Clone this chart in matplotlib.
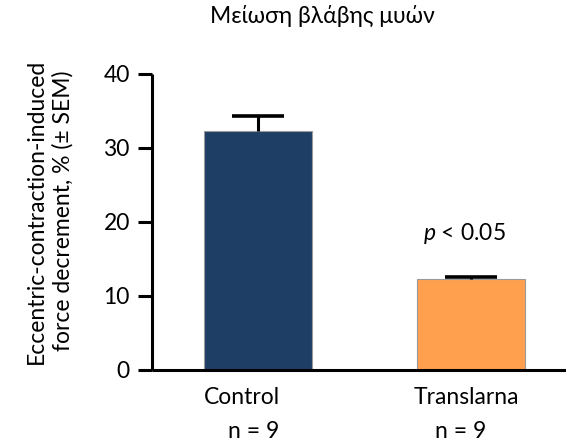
import matplotlib
matplotlib.use("Agg")
import matplotlib.pyplot as plt
import matplotlib.transforms as mtransforms

# ---------------------------------------------------------------- data
groups = ["Control", "Translarna"]
n_labels = ["n = 9", "n = 9"]
values = [32.3, 12.3]
sem = [2.0, 0.3]
colors = ["#1F3E66", "#FFA04E"]
yticks = [0, 10, 20, 30, 40]
title = "Μείωση βλάβης μυών"
ylabel = "Eccentric-contraction-induced\nforce decrement, % (± SEM)"
pval = "$\\it{p}$ < 0.05"

plt.rcParams["font.family"] = ["Lato", "Open Sans", "DejaVu Sans"]
plt.rcParams["mathtext.fontset"] = "custom"
plt.rcParams["mathtext.it"] = "Lato:italic"
FS = 16.5

fig = plt.figure(figsize=(5.66, 4.41), dpi=100)
ax = fig.add_axes([152 / 566, 1 - 370 / 441, 1 - 152 / 566, (370 - 74) / 441])

x = list(range(len(groups)))
ax.bar(x, values, width=0.507, color=colors, edgecolor="#9a9a9a", linewidth=0.8, zorder=2)
_, caps, _ = ax.errorbar(x, values, yerr=[[0] * len(sem), sem], fmt="none", ecolor="black",
                         elinewidth=2.2, capsize=19, capthick=2.6, zorder=3)
caps[0].set_visible(False)   # only the upper cap, like the source

ax.set_xlim(-0.498, 1.446)
ax.set_ylim(0, 40)
ax.set_yticks(yticks)
ax.set_xticks([])
ax.tick_params(axis="y", length=10, width=2.2, labelsize=FS, pad=6)
for s in ["top", "right"]:
    ax.spines[s].set_visible(False)
for s in ["left", "bottom"]:
    ax.spines[s].set_linewidth(2.2)
    ax.spines[s].set_capstyle("butt")

# category labels and group sizes, slightly off the bar centres as in the source
trans = mtransforms.blended_transform_factory(ax.transData, fig.transFigure)
cat_x = [-0.075, 0.977]
n_x = [-0.019, 0.953]
for cx, nx, g, nl in zip(cat_x, n_x, groups, n_labels):
    ax.text(cx, 1 - 397 / 441, g, transform=trans, ha="center", va="center", fontsize=FS)
    ax.text(nx, 1 - 432 / 441, nl, transform=trans, ha="center", va="center", fontsize=FS)

ax.text(0.967, 18.5, pval, ha="center", va="center", fontsize=FS)

fig.text(50 / 566, 1 - 211 / 441, ylabel, rotation=90, ha="center", va="center",
         fontsize=FS, linespacing=1.3)
fig.text(322 / 566, 1 - 16 / 441, title, ha="center", va="center", fontsize=FS)

fig.savefig("out.png", dpi=100)
